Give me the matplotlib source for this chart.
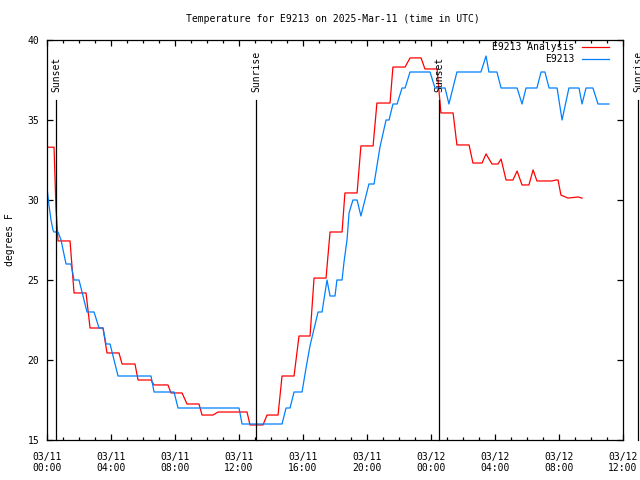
import pandas as pd
import matplotlib
matplotlib.use("Agg")
import matplotlib.pyplot as plt
import matplotlib.dates as mdates

# === Daten (Stunden seit 2025-03-11 00:00 UTC, Temperatur in F) ===
start = pd.Timestamp("2025-03-11 00:00")

analysis_hours = [0.0, 0.44, 0.56, 0.69, 1.44, 1.69, 2.44, 2.69, 3.5, 3.75, 4.5, 4.69,
                  5.5, 5.69, 6.5, 6.69, 7.56, 7.75, 8.44, 8.75, 9.5, 9.69, 10.38, 10.69,
                  12.5, 12.69, 13.5, 13.75, 14.44, 14.69, 15.44, 15.75, 16.44, 16.69,
                  17.44, 17.69, 18.44, 18.62, 19.38, 19.62, 20.38, 20.62, 21.44, 21.62,
                  22.38, 22.69, 23.38, 23.62, 24.38, 24.62, 25.38, 25.62, 26.38, 26.62,
                  27.19, 27.44, 27.81, 28.19, 28.38, 28.69, 29.12, 29.38, 29.69, 30.12,
                  30.38, 30.62, 31.56, 31.81, 31.94, 32.12, 32.56, 33.19, 33.44]
analysis_temps = [33.3, 33.3, 29.5, 27.44, 27.44, 24.19, 24.19, 22.0, 22.0, 20.44, 20.44, 19.75,
                  19.75, 18.75, 18.75, 18.44, 18.44, 17.94, 17.94, 17.25, 17.25, 16.56, 16.56, 16.75,
                  16.75, 15.94, 15.94, 16.56, 16.56, 19.0, 19.0, 21.5, 21.5, 25.12,
                  25.12, 28.0, 28.0, 30.44, 30.44, 33.38, 33.38, 36.06, 36.06, 38.31,
                  38.31, 38.88, 38.88, 38.19, 38.19, 35.44, 35.44, 33.44, 33.44, 32.31,
                  32.31, 32.88, 32.25, 32.25, 32.56, 31.25, 31.25, 31.81, 30.94, 30.94,
                  31.88, 31.19, 31.19, 31.25, 31.25, 30.31, 30.12, 30.19, 30.12]

obs_hours = [0.0, 0.12, 0.25, 0.38, 0.44, 0.69, 0.88, 1.0, 1.19, 1.5, 1.69, 2.0, 2.5, 2.94,
             3.25, 3.5, 3.69, 3.94, 4.44, 6.5, 6.69, 7.94, 8.19, 12.0, 12.19, 14.69, 14.94,
             15.19, 15.44, 15.94, 16.19, 16.44, 16.94, 17.19, 17.5, 17.69, 18.0, 18.12, 18.44,
             18.56, 18.75, 18.88, 19.12, 19.38, 19.62, 20.12, 20.44, 20.81, 21.19, 21.38,
             21.62, 21.88, 22.19, 22.38, 22.69, 23.94, 24.25, 24.88, 25.12, 25.62, 27.12,
             27.44, 27.62, 28.12, 28.38, 29.38, 29.69, 29.94, 30.62, 30.88, 31.12, 31.38,
             31.88, 32.19, 32.62, 33.25, 33.44, 33.69, 34.12, 34.44, 35.12]
obs_temps = [30.75, 29.7, 28.75, 28.1, 28.0, 28.0, 27.5, 26.9, 26.0, 26.0, 25.0, 25.0, 23.0, 23.0,
             22.0, 22.0, 21.0, 21.0, 19.0, 19.0, 18.0, 18.0, 17.0, 17.0, 16.0, 16.0, 17.0,
             17.0, 18.0, 18.0, 19.5, 20.9, 23.0, 23.0, 25.0, 24.0, 24.0, 25.0, 25.0,
             26.1, 27.5, 29.2, 30.0, 30.0, 29.0, 31.0, 31.0, 33.3, 35.0, 35.0,
             36.0, 36.0, 37.0, 37.0, 38.0, 38.0, 37.0, 37.0, 36.0, 38.0, 38.0,
             39.0, 38.0, 38.0, 37.0, 37.0, 36.0, 37.0, 37.0, 38.0, 38.0, 37.0,
             37.0, 35.0, 37.0, 37.0, 36.0, 37.0, 37.0, 36.0, 36.0]

sun_hours = [0.58, 13.08, 24.52, 36.94]
sun_labels = ["Sunset", "Sunrise", "Sunset", "Sunrise"]

analysis_time = start + pd.to_timedelta(analysis_hours, unit="h")
obs_time = start + pd.to_timedelta(obs_hours, unit="h")
sun_time = start + pd.to_timedelta(sun_hours, unit="h")

plt.rcParams["font.family"] = ["DejaVu Sans Mono"]
plt.rcParams["font.size"] = 7

fig = plt.figure(figsize=(6.4, 4.8), dpi=100)
ax = fig.add_axes([47 / 640, 40 / 480, 576 / 640, 400 / 480])

ax.plot(analysis_time, analysis_temps, color="#ff0000", lw=0.9, label="E9213 Analysis")
ax.plot(obs_time, obs_temps, color="#0080ff", lw=0.9, label="E9213")

# Sonnenauf-/untergang
for t, lab in zip(sun_time, sun_labels):
    ax.plot([t, t], [0, 0.85], color="black", lw=0.9,
            transform=ax.get_xaxis_transform(), clip_on=False)
    ax.text(t, 0.87, lab, rotation=90, ha="center", va="bottom",
            transform=ax.get_xaxis_transform(), clip_on=False)

ax.set_xlim(start, start + pd.Timedelta(hours=36))
ax.set_ylim(15, 40)
ax.set_yticks(range(15, 41, 5))

ax.xaxis.set_major_locator(mdates.HourLocator(byhour=range(0, 24, 4)))
ax.xaxis.set_minor_locator(mdates.HourLocator(interval=1))
ax.xaxis.set_major_formatter(mdates.DateFormatter("%m/%d\n%H:%M"))

ax.tick_params(which="both", direction="in", top=True, right=True, width=0.9, color="black")
ax.tick_params(which="major", length=4.5)
ax.tick_params(which="minor", length=2.2)
ax.tick_params(axis="y", pad=5.5)
ax.tick_params(axis="x", pad=8.5)
for s in ax.spines.values():
    s.set_linewidth(0.9)

fig.text(10 / 640, 0.5, "degrees F", rotation=90, ha="center", va="center")
fig.text(333 / 640, 1 - 19 / 480, "Temperature for E9213 on 2025-Mar-11 (time in UTC)",
         ha="center", va="center")

ax.legend(loc="upper right", bbox_to_anchor=((609 - 47) / 576, (440 - 42) / 400),
          frameon=False, markerfirst=False, handlelength=2.8, handletextpad=0.8,
          borderaxespad=0, borderpad=0, labelspacing=0.2)

plt.savefig("out.png", dpi=100)
